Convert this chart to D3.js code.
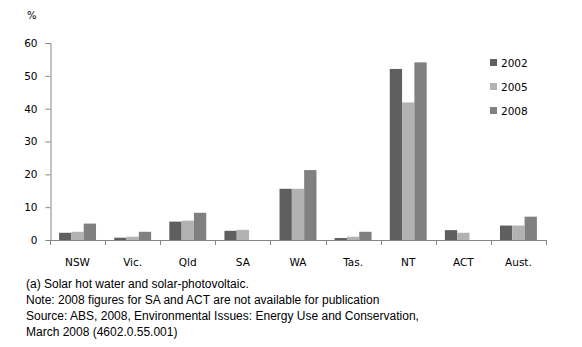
<!DOCTYPE html>
<html>
<head>
<script src="https://d3js.org/d3.v7.min.js"></script>
<style>
  body { margin: 0; background: #fff; }
  svg { display: block; }
</style>
</head>
<body>
<svg id="chart"></svg>
<script>
  // chart data (%)
  var states = ['NSW', 'Vic.', 'Qld', 'SA', 'WA', 'Tas.', 'NT', 'ACT', 'Aust.'];
  var years = ['2002', '2005', '2008'];
  var v2002 = [2.2, 0.7, 5.6, 2.8, 15.6, 0.6, 52.1, 3.0, 4.4];
  var v2005 = [2.5, 1.0, 5.9, 3.1, 15.6, 1.0, 41.9, 2.2, 4.4];
  var v2008 = [5.0, 2.5, 8.3, null, 21.3, 2.5, 54.1, null, 7.1]; // SA, ACT not available
  var yTicks = [0, 10, 20, 30, 40, 50, 60];
  var notes = [
    '(a) Solar hot water and solar-photovoltaic.',
    'Note: 2008 figures for SA and ACT are not available for publication',
    'Source: ABS, 2008, Environmental Issues: Energy Use and Conservation,',
    'March 2008 (4602.0.55.001)'
  ];

  var width = 582, height = 347;
  var colors = ['#5f5f5f', '#b2b2b2', '#808080'];
  var axisColor = '#868686';

  var svg = d3.select('#chart')
    .attr('width', width)
    .attr('height', height);

  var x = d3.scaleBand()
    .domain(states)
    .range([50, 546])
    .paddingInner(0.33)
    .paddingOuter(0.165);

  var x1 = d3.scaleBand()
    .domain(years)
    .range([0, x.bandwidth()]);

  var y = d3.scaleLinear()
    .domain([0, 60])
    .range([240, 43]);

  var series = [v2002, v2005, v2008];

  // bars, one group per year
  series.forEach(function(vals, k) {
    var pts = vals.map(function(d, i) { return {s: states[i], v: d}; })
      .filter(function(p) { return p.v != null; });
    svg.append('g').selectAll('rect')
      .data(pts)
      .enter().append('rect')
      .attr('x', function(p) { return x(p.s) + x1(years[k]); })
      .attr('y', function(p) { return y(p.v); })
      .attr('height', function(p) { return y(0) - y(p.v); })
      .attr('width', x1.bandwidth())
      .attr('fill', colors[k]);
  });

  // y axis
  var yAxis = svg.append('g')
    .attr('transform', 'translate(50.5,0)')
    .call(d3.axisLeft(y).tickValues(yTicks).tickSize(5).tickPadding(8));
  yAxis.selectAll('line, path').attr('stroke', axisColor);
  yAxis.selectAll('text')
    .attr('font-family', 'DejaVu Sans')
    .attr('font-size', 10.5)
    .attr('fill', '#000');

  // x axis, tick marks sit between the categories
  var boundaries = d3.range(states.length + 1).map(function(i) { return 50 + i * x.step(); });
  var xg = svg.append('g');
  xg.append('line')
    .attr('x1', 50).attr('x2', 546.5)
    .attr('y1', 240.5).attr('y2', 240.5)
    .attr('stroke', axisColor);
  xg.selectAll('line.tk')
    .data(boundaries)
    .enter().append('line')
    .attr('class', 'tk')
    .attr('x1', function(d) { return Math.round(d) + 0.5; })
    .attr('x2', function(d) { return Math.round(d) + 0.5; })
    .attr('y1', 240).attr('y2', 245)
    .attr('stroke', axisColor);
  xg.selectAll('text')
    .data(states)
    .enter().append('text')
    .attr('x', function(d) { return x(d) + x.bandwidth() / 2; })
    .attr('y', 266)
    .attr('text-anchor', 'middle')
    .attr('font-family', 'DejaVu Sans')
    .attr('font-size', 10.5)
    .text(function(d) { return d; });

  // unit label
  svg.append('text')
    .attr('x', 27).attr('y', 19)
    .attr('font-family', 'DejaVu Sans')
    .attr('font-size', 10)
    .text('%');

  // legend
  var leg = svg.append('g').selectAll('g')
    .data(years)
    .enter().append('g')
    .attr('transform', function(d, i) { return 'translate(490,' + (59 + i * 24) + ')'; });
  leg.append('rect')
    .attr('width', 7).attr('height', 7)
    .attr('fill', function(d, i) { return colors[i]; });
  leg.append('text')
    .attr('x', 11).attr('y', 7.5)
    .attr('font-family', 'DejaVu Sans')
    .attr('font-size', 10.5)
    .text(function(d) { return d; });

  // footnotes
  svg.append('g').selectAll('text')
    .data(notes)
    .enter().append('text')
    .attr('x', 26)
    .attr('y', function(d, i) { return 288 + i * 16; })
    .attr('font-family', 'Liberation Sans')
    .attr('font-size', 12)
    .text(function(d) { return d; });
</script>
</body>
</html>
